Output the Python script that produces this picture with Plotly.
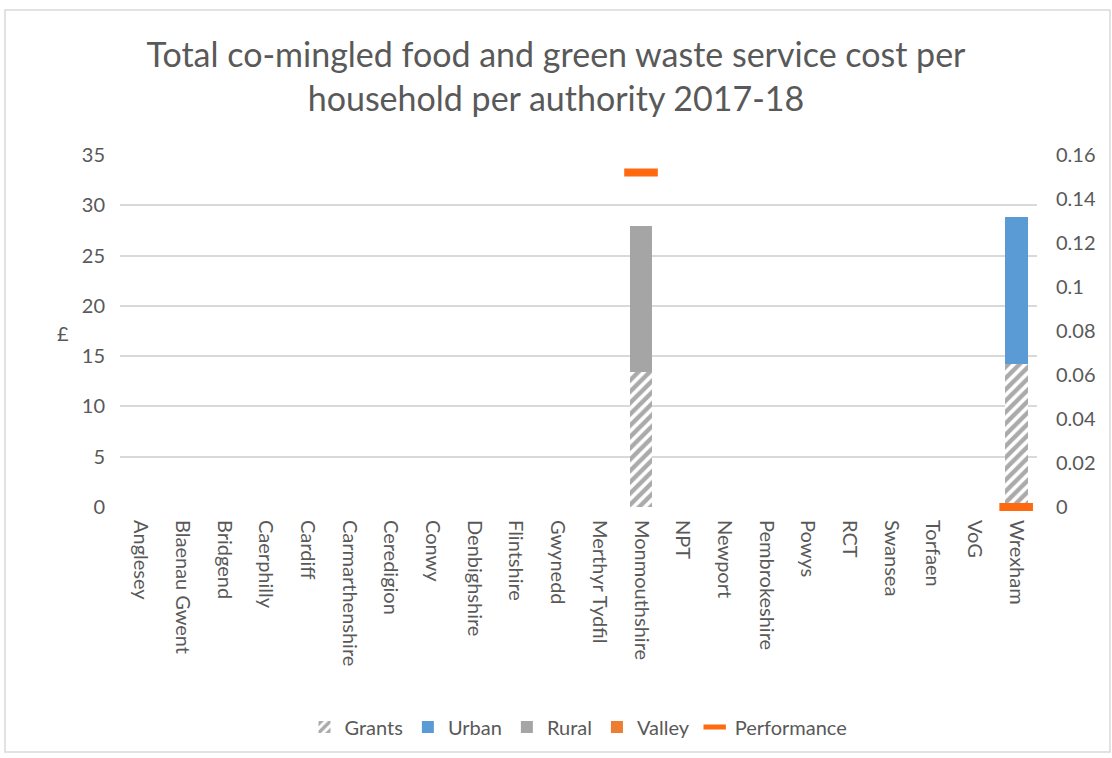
import plotly.graph_objects as go

categories = ["Anglesey", "Blaenau Gwent", "Bridgend", "Caerphilly", "Cardiff",
              "Carmarthenshire", "Ceredigion", "Conwy", "Denbighshire", "Flintshire",
              "Gwynedd", "Merthyr Tydfil", "Monmouthshire", "NPT", "Newport",
              "Pembrokeshire", "Powys", "RCT", "Swansea", "Torfaen", "VoG", "Wrexham"]
grants = [None]*12 + [13.45] + [None]*8 + [14.2]
urban = [None]*21 + [14.65]
rural = [None]*12 + [14.45] + [None]*9
valley = [None]*22
performance = [None]*12 + [0.152] + [None]*8 + [0.0]

grey = "#595959"
font = "Lato"

fig = go.Figure()
fig.add_trace(go.Bar(name="Grants", x=categories, y=grants,
                     marker=dict(color="white", line=dict(width=0),
                                 pattern=dict(shape="/", fgcolor="#555555", bgcolor="white",
                                              size=8, solidity=0.55))))
fig.add_trace(go.Bar(name="Urban", x=categories, y=urban, marker=dict(color="#5B9BD5", line=dict(width=0))))
fig.add_trace(go.Bar(name="Rural", x=categories, y=rural, marker=dict(color="#A5A5A5", line=dict(width=0))))
fig.add_trace(go.Bar(name="Valley", x=categories, y=valley, marker=dict(color="#ED7D31", line=dict(width=0))))
fig.add_trace(go.Scatter(name="Performance", x=categories, y=performance, yaxis="y2",
                         mode="markers", cliponaxis=False,
                         marker=dict(symbol="line-ew", size=24, color="#FF6A10",
                                     line=dict(width=8, color="#FF6A10"))))

W, H = 1112, 758
l, r, t, b = 120, 75, 155, 251
pw, ph = W - l - r, H - t - b

def px(x):
    return (x - l) / pw

def py(y):
    return (H - b - y) / ph

fig.update_layout(
    width=W, height=H,
    margin=dict(l=l, r=r, t=t, b=b, autoexpand=False),
    paper_bgcolor="white", plot_bgcolor="white",
    barmode="stack", bargap=0.45,
    font=dict(family=font, color=grey, size=20),
    title=dict(text="Total co-mingled food and green waste service cost per<br>household per authority 2017-18",
               x=0.5, xanchor="center", y=0.912, yanchor="top",
               font=dict(size=34, color=grey, family=font)),
    xaxis=dict(tickangle=90, showgrid=False, zeroline=False, showline=False,
               range=[-0.5, len(categories) - 0.5],
               tickfont=dict(size=20, color=grey), ticks="", ticklabelstandoff=12),
    yaxis=dict(range=[0, 35], dtick=5, showgrid=True, gridcolor="#D9D9D9", gridwidth=1.5,
               zeroline=False, showline=False, ticks="", ticklabelstandoff=14,
               tickfont=dict(size=20, color=grey)),
    yaxis2=dict(range=[0, 0.16], dtick=0.02, overlaying="y", side="right", showgrid=False,
                zeroline=False, showline=False, ticks="", ticklabelstandoff=18,
                tickfont=dict(size=20, color=grey)),
    legend=dict(orientation="h", x=0.5, xanchor="center", y=py(727), yanchor="middle",
                font=dict(size=20, color=grey), traceorder="normal"),
    showlegend=True,
    annotations=[dict(text="£", x=px(55), y=py(333), xref="paper", yref="paper",
                      showarrow=False, font=dict(size=20, color=grey))],
    shapes=[dict(type="rect", xref="paper", yref="paper",
                 x0=px(5), x1=px(1110), y0=py(752), y1=py(10),
                 line=dict(color="#D9D9D9", width=1.5), fillcolor="rgba(0,0,0,0)")],
)

fig.write_html("out.html")
